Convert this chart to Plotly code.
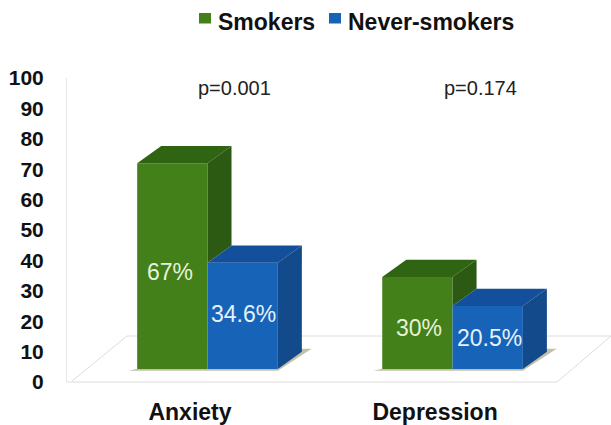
import plotly.graph_objects as go

categories = ["Anxiety", "Depression"]
smokers = [67, 30]
never_smokers = [34.6, 20.5]
p_values = ["p=0.001", "p=0.174"]
y_ticks = list(range(0, 101, 10))

FONT = "Liberation Sans, Arial, sans-serif"
GREEN, GREEN_TOP, GREEN_SIDE = "#43801a", "#2f6412", "#2c5a12"
BLUE, BLUE_TOP, BLUE_SIDE = "#1763b8", "#134f9b", "#134a8c"

# Plot frame in pixels, and the pseudo-3D extrusion in axis units.
L, R, T, B = 67, 611, 78, 382
BAR_W = 0.287
SHIFT = 0.0714
DX = 0.098
DY = 5.6

px_x = lambda p: (p - L) / (R - L)
px_y = lambda p: (B - p) / (B - T)


def polygon(xs, ys, color):
    return go.Scatter(
        x=xs + xs[:1], y=ys + ys[:1], yaxis="y2", mode="lines", fill="toself",
        fillcolor=color, line=dict(width=0, color=color),
        hoverinfo="skip", showlegend=False,
    )


fig = go.Figure()
# Invisible anchor so the 0-100 tick axis is drawn.
fig.add_trace(go.Scatter(x=[0], y=[0], yaxis="y", mode="markers", marker=dict(opacity=0),
                         hoverinfo="skip", showlegend=False))
fig.add_bar(name="Smokers", x=[i + SHIFT for i in range(2)], y=smokers,
            yaxis="y2", marker=dict(color=GREEN, line_width=0))
fig.add_bar(name="Never-smokers", x=[i + SHIFT for i in range(2)], y=never_smokers,
            yaxis="y2", marker=dict(color=BLUE, line_width=0))

annotations = []
shapes = []
label_shift = [(-2, -6, 1, 2), (2, -5, 2, 0)]
for i in range(2):
    c = i + SHIFT
    s, n = smokers[i], never_smokers[i]
    # Green block: top face, and the part of its side rising above the blue block.
    fig.add_trace(polygon([c - BAR_W, c, c + DX, c - BAR_W + DX],
                          [s, s, s + DY, s + DY], GREEN_TOP))
    fig.add_trace(polygon([c, c + DX, c + DX, c],
                          [s, s + DY, n + DY, n], GREEN_SIDE))
    # Blue block: top face and full side.
    fig.add_trace(polygon([c, c + BAR_W, c + BAR_W + DX, c + DX],
                          [n, n, n + DY, n + DY], BLUE_TOP))
    fig.add_trace(polygon([c + BAR_W, c + BAR_W + DX, c + BAR_W + DX, c + BAR_W],
                          [n, n + DY, DY, 0], BLUE_SIDE))
    # Contact shadow on the floor.
    x0, x1 = c - BAR_W - 0.035, c + BAR_W
    shapes.append(dict(
        type="path", xref="x", yref="y2", layer="below", line_width=0,
        fillcolor="rgba(125,115,60,0.45)",
        path=f"M{x0},-0.6 L{x1},-0.6 L{x1 + DX + 0.04},{DY + 1} L{x1 + DX},{DY + 1} L{x1},0 L{x0 + 0.03},0 Z",
    ))
    sx, sy, nx, ny = label_shift[i]
    annotations.append(dict(x=c - BAR_W / 2, y=s / 2, xref="x", yref="y2", xshift=sx, yshift=sy,
                            text=f"{s}%", showarrow=False, xanchor="center",
                            font=dict(family=FONT, size=23, color="#e6f2d8")))
    annotations.append(dict(x=c + BAR_W / 2, y=n / 2, xref="x", yref="y2", xshift=nx, yshift=ny,
                            text=f"{n}%", showarrow=False, xanchor="center",
                            font=dict(family=FONT, size=23, color="#e6f1fb")))

# Floor plane behind the bars.
shapes.append(dict(
    type="path", xref="paper", yref="paper", layer="below",
    line=dict(color="#dcdcdc", width=1), fillcolor="white",
    path=(f"M{px_x(67)},{px_y(382)} L{px_x(557)},{px_y(382)} L{px_x(611)},{px_y(336)} "
          f"L{px_x(127)},{px_y(336)} L{px_x(72)},{px_y(381)}"),
))

# Legend row and p-value captions.
legend_row = [("Smokers", GREEN, 199, 215.5), ("Never-smokers", BLUE, 329, 345.5)]
for name, color, sq, tx in legend_row:
    shapes.append(dict(type="rect", xref="paper", yref="paper", line_width=0, fillcolor=color,
                       x0=px_x(sq), x1=px_x(sq + 12), y0=px_y(23.5), y1=px_y(13)))
    annotations.append(dict(x=px_x(tx), y=px_y(22), xref="paper", yref="paper", xanchor="left",
                            yanchor="middle", text=f"<b>{name}</b>", showarrow=False,
                            font=dict(family=FONT, size=23, color="#111111")))
for cx, label in zip((234, 480.5), p_values):
    annotations.append(dict(x=px_x(cx), y=px_y(88), xref="paper", yref="paper",
                            xanchor="center", yanchor="middle",
                            text=label, showarrow=False,
                            font=dict(family=FONT, size=20, color="#222222")))

fig.update_layout(
    width=611, height=425, margin=dict(l=L, r=611 - R, t=T, b=425 - B),
    paper_bgcolor="white", plot_bgcolor="rgba(0,0,0,0)",
    showlegend=False, barmode="group", bargap=1 - 2 * BAR_W, bargroupgap=0,
    shapes=shapes, annotations=annotations,
    xaxis=dict(range=[-0.502, 1.718], tickmode="array", tickvals=[0, 1], ticktext=[f"<b>{c}</b>" for c in categories],
               showgrid=False, zeroline=False, showline=False, ticks="", ticklabelstandoff=14, automargin=False,
               tickfont=dict(family=FONT, size=23, color="#111111")),
    yaxis=dict(range=[0, 100], tickmode="array", tickvals=y_ticks,
               ticktext=[f"<b>{t}</b>" for t in y_ticks], automargin=False,
               showgrid=False, zeroline=False, showline=True, linecolor="#e6e6e6", linewidth=1,
               ticks="", ticklabelstandoff=18, tickfont=dict(family=FONT, size=21, color="#111111")),
    yaxis2=dict(range=[-4.235, 94.79], overlaying="y", visible=False, showgrid=False, zeroline=False),
)

fig.write_html("out.html")
